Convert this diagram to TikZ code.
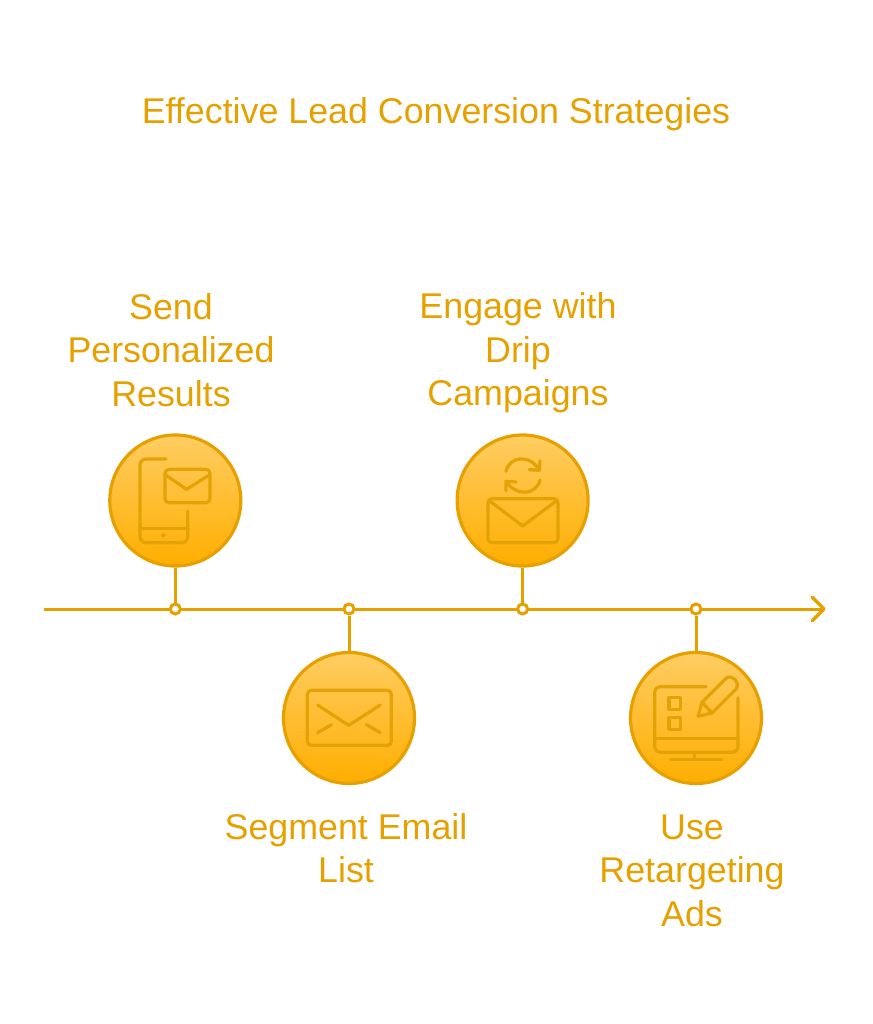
\documentclass[tikz,border=0pt]{standalone}
\usepackage{fontspec}
\setmainfont{Liberation Sans}
\definecolor{amber}{HTML}{E6A100}
\definecolor{iconc}{HTML}{E3A206}
\definecolor{gradtop}{HTML}{FFCD62}
\definecolor{gradbot}{HTML}{FFAE00}
\tikzset{
  x=1pt,y=-1pt,
  disc/.style={circle,draw=amber,line width=3.2pt,minimum size=131pt,inner sep=0pt,top color=gradtop,bottom color=gradbot},
  dot/.style={circle,draw=amber,line width=3pt,fill=white,minimum size=10pt,inner sep=0pt},
  link/.style={draw=amber,line width=3pt},
  barb/.style={draw=amber,line width=3.4pt,line cap=round,line join=round},
  label/.style={text=amber,align=center,font=\fontsize{35.8}{43.5}\selectfont},
  ico/.style={draw=iconc,line width=3.2pt,line cap=round,line join=round},
  zoomed/.style={x=0.33333pt,y=-0.33333pt}
}
\begin{document}
\begin{tikzpicture}
\useasboundingbox (0,0) rectangle (872,1024);
\node[label] (title) at (436,114) {Effective Lead Conversion Strategies};
\node[label] (t1) at (171,350) {Send\\Personalized\\Results};
\node[label] (t3) at (518,353) {Engage with\\Drip\\Campaigns};
\node[label] (t2) at (346,848) {Segment Email\\List};
\node[label] (t4) at (692,870.5) {Use\\Retargeting\\Ads};
\coordinate (start) at (44,609);
\coordinate (end) at (824,609);
\coordinate (barbA) at (812,597);
\coordinate (barbB) at (812,621);
\draw[link] (start) -- (end);
\draw[barb] (barbA) -- (end) -- (barbB);
\node[disc] (c1) at (175.3,500.5) {};
\node[disc] (c2) at (349,718) {};
\node[disc] (c3) at (522.6,500.5) {};
\node[disc] (c4) at (696,718) {};
\node[dot] (d1) at (175.3,609) {};
\node[dot] (d2) at (349,609) {};
\node[dot] (d3) at (522.6,609) {};
\node[dot] (d4) at (696,609) {};
\draw[link] (c1) -- (d1);
\draw[link] (c2) -- (d2);
\draw[link] (c3) -- (d3);
\draw[link] (c4) -- (d4);
% icon 1
\begin{scope}[shift={(100,430)},zoomed]
\draw[ico,rounded corners=6pt] (198,87) -- (120,87) -- (120,338) -- (263,338) -- (263,243);
\draw[ico] (120,295) -- (263,295);
\fill[iconc] (190,316) circle (2.2pt);
\draw[ico,rounded corners=4pt] (195,118) rectangle (330,218);
\draw[ico] (197,135) -- (260,178) -- (328,135);
\end{scope}
% icon 2
\begin{scope}[shift={(275,600)},zoomed]
\draw[ico,rounded corners=4pt] (97,271) rectangle (349,436);
\draw[ico] (128,315) -- (221,376) -- (316,315);
\draw[ico] (128,398) -- (170,374);
\draw[ico] (274,374) -- (316,398);
\end{scope}
% icon 3
\begin{scope}[shift={(450,430)},zoomed]
\draw[ico,rounded corners=4pt] (114,206) rectangle (324,338);
\draw[ico] (118,212) -- (218,288) -- (320,212);
\draw[ico] (168,124) .. controls (178,78) and (240,72) .. (268,120);
\draw[ico] (270,92) -- (268,121) -- (238,119);
\draw[ico] (270,150) .. controls (258,198) and (196,198) .. (168,154);
\draw[ico] (168,182) -- (168,154) -- (198,156);
\end{scope}
% icon 4
\begin{scope}[shift={(620,595)},zoomed]
\draw[ico,rounded corners=6pt] (258,275) -- (104,275) -- (104,472) -- (354,472) -- (354,308);
\draw[ico] (104,430) -- (354,430);
\draw[ico] (224,472) -- (224,493);
\draw[ico] (152,493) -- (306,493);
\draw[ico] (147,308) rectangle (182,343);
\draw[ico] (147,368) rectangle (182,403);
\draw[ico] (234,364) -- (246,322) -- (318,250) .. controls (332,236) and (364,262) .. (348,282) -- (276,354) -- cycle;
\draw[ico] (246,322) -- (276,354);
\end{scope}
\end{tikzpicture}
\end{document}
